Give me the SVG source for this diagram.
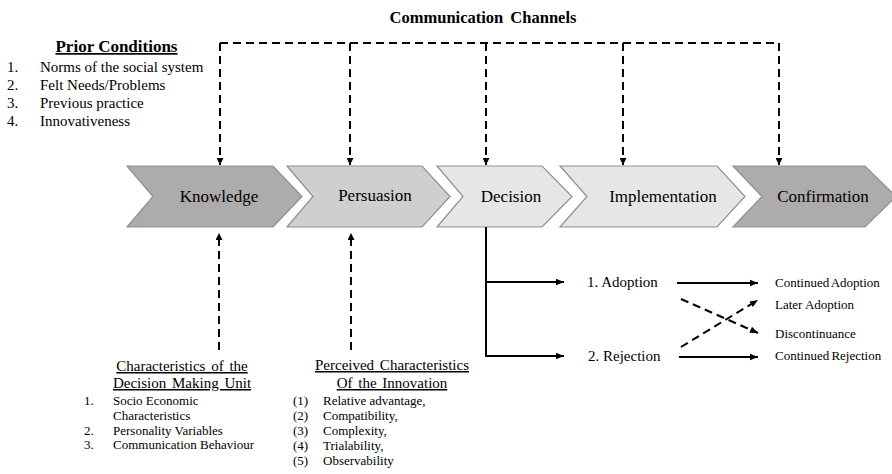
<svg xmlns="http://www.w3.org/2000/svg" width="892" height="474" viewBox="0 0 892 474" font-family="'Liberation Serif', 'DejaVu Serif', 'Times New Roman', serif">
<style>
text{font-family:'Liberation Serif','DejaVu Serif','Times New Roman',serif;fill:#000}
.stage{font-size:17px;text-anchor:middle}
.chev{stroke:#8f8f8f;stroke-width:1.2}
.dark{fill:#aeabab}
.mid{fill:#d0cece}
.light{fill:#e7e6e6}
.dash{fill:none;stroke:#000;stroke-width:2;stroke-dasharray:8 5}
.solid{fill:none;stroke:#000;stroke-width:2}
.head{font-weight:bold}
.ul{text-decoration:underline}
.l15{font-size:15px}
.l13{font-size:13px}
</style>
<defs>
<marker id="ah" markerUnits="userSpaceOnUse" markerWidth="7" markerHeight="7" viewBox="0 0 10 10" refX="10" refY="5" orient="auto">
<path d="M0,0 L10,5 L0,10 z" fill="#000"/>
</marker>
<marker id="ah2" markerUnits="userSpaceOnUse" markerWidth="9" markerHeight="8" viewBox="0 0 10 10" refX="10" refY="5" orient="auto">
<path d="M0,1 L10,5 L0,9 z" fill="#000"/>
</marker>
</defs>

<text x="483" y="23" class="head" font-size="16.5" text-anchor="middle" word-spacing="3">Communication Channels</text>

<g id="prior">
<text x="116.5" y="52" class="head ul" font-size="17" text-anchor="middle">Prior Conditions</text>
<text class="l15"><tspan x="7" y="72">1.</tspan><tspan x="40" y="72">Norms of the social system</tspan></text>
<text class="l15"><tspan x="7" y="90">2.</tspan><tspan x="40" y="90">Felt Needs/Problems</tspan></text>
<text class="l15"><tspan x="7" y="108">3.</tspan><tspan x="40" y="108">Previous practice</tspan></text>
<text class="l15"><tspan x="7" y="126">4.</tspan><tspan x="40" y="126">Innovativeness</tspan></text>
</g>

<g id="knowledge">
<polygon class="chev dark" points="127,166 273,166 302,196.5 273,227 127,227 153,196.5"/>
<text class="stage" x="219" y="202">Knowledge</text>
</g>
<g id="persuasion">
<polygon class="chev mid" points="287,166 422,166 450,196.5 422,227 287,227 313,196.5"/>
<text class="stage" x="375" y="201">Persuasion</text>
</g>
<g id="decision">
<polygon class="chev light" points="437,166 542,166 572,196.5 542,227 437,227 463,196.5"/>
<text class="stage" x="511" y="202">Decision</text>
</g>
<g id="implementation">
<polygon class="chev light" points="560,166 717,166 745,196.5 717,227 560,227 587,196.5"/>
<text class="stage" x="663" y="202">Implementation</text>
</g>
<g id="confirmation">
<polygon class="chev dark" points="733,166 865,166 896,196.5 865,227 733,227 762,196.5"/>
<text class="stage" x="823" y="202">Confirmation</text>
</g>

<g id="dmu">
<text x="182" y="371" class="l15 ul" text-anchor="middle" word-spacing="2">Characteristics of the</text>
<text x="182" y="388" class="l15 ul" text-anchor="middle" word-spacing="2">Decision Making Unit</text>
<text class="l13"><tspan x="84" y="405">1.</tspan><tspan x="113" y="405">Socio Economic</tspan></text>
<text class="l13"><tspan x="113" y="420">Characteristics</tspan></text>
<text class="l13"><tspan x="84" y="435">2.</tspan><tspan x="113" y="435">Personality Variables</tspan></text>
<text class="l13"><tspan x="84" y="449">3.</tspan><tspan x="113" y="449">Communication Behaviour</tspan></text>
</g>

<g id="innovation">
<text x="392" y="370" class="l15 ul" text-anchor="middle" word-spacing="2">Perceived Characteristics</text>
<text x="392" y="388" class="l15 ul" text-anchor="middle" word-spacing="2">Of the Innovation</text>
<text class="l13"><tspan x="293" y="405">(1)</tspan><tspan x="323" y="405">Relative advantage,</tspan></text>
<text class="l13"><tspan x="293" y="420">(2)</tspan><tspan x="323" y="420">Compatibility,</tspan></text>
<text class="l13"><tspan x="293" y="435">(3)</tspan><tspan x="323" y="435">Complexity,</tspan></text>
<text class="l13"><tspan x="293" y="450">(4)</tspan><tspan x="323" y="450">Trialability,</tspan></text>
<text class="l13"><tspan x="293" y="465">(5)</tspan><tspan x="323" y="465">Observability</tspan></text>
</g>

<g id="adoption"><text x="587" y="287" class="l15">1. Adoption</text></g>
<g id="rejection"><text x="588" y="361" class="l15">2. Rejection</text></g>
<g id="outcomes">
<text x="775" y="287" class="l13" word-spacing="-1">Continued Adoption</text>
<text x="775" y="309" class="l13">Later Adoption</text>
<text x="775" y="338" class="l13">Discontinuance</text>
<text x="775" y="360" class="l13" word-spacing="-1">Continued Rejection</text>
</g>

<g id="connectors">
<path class="dash" d="M220,43 H779"/>
<path class="dash" d="M220,43 V165" marker-end="url(#ah)"/>
<path class="dash" d="M350,43 V165" marker-end="url(#ah)"/>
<path class="dash" d="M486,43 V165" marker-end="url(#ah)"/>
<path class="dash" d="M623,43 V165" marker-end="url(#ah)"/>
<path class="dash" d="M779,43 V165" marker-end="url(#ah)"/>
<path class="dash" d="M219,350 V233" marker-end="url(#ah)"/>
<path class="dash" d="M351,350 V233" marker-end="url(#ah)"/>
<path class="solid" d="M486,227 V356"/>
<path class="solid" d="M485,282 H564" marker-end="url(#ah2)"/>
<path class="solid" d="M485,356 H564" marker-end="url(#ah2)"/>
<path class="solid" d="M677,283 H758" marker-end="url(#ah2)"/>
<path class="solid" d="M679,357 H758" marker-end="url(#ah2)"/>
<path class="dash" d="M681,299 L758,333" marker-end="url(#ah2)"/>
<path class="dash" d="M681,347 L758,300" marker-end="url(#ah2)"/>
</g>
</svg>
